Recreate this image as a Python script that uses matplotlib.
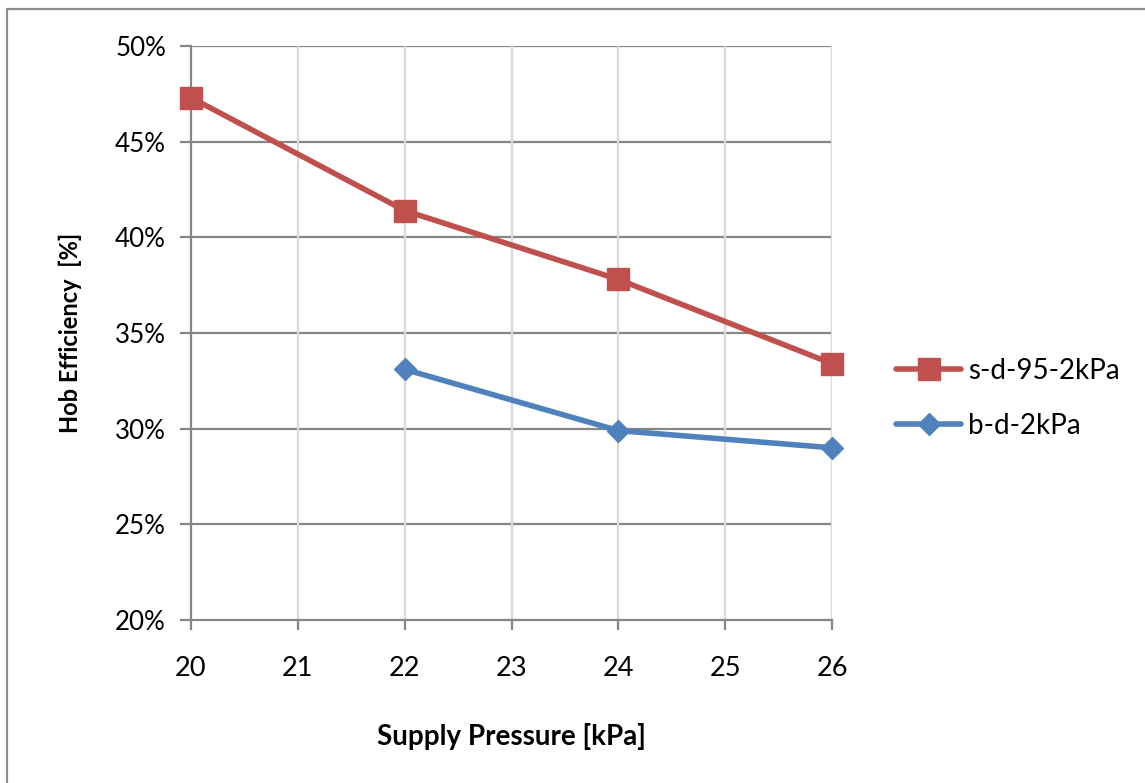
import numpy as np
import matplotlib.pyplot as plt
from matplotlib.patches import Rectangle
from matplotlib.ticker import FuncFormatter

plt.rcParams['font.family'] = ['Lato', 'DejaVu Sans']

# Daten
pressure_sd = [20, 22, 24, 26]
eff_sd = [47.3, 41.4, 37.8, 33.4]
pressure_bd = [22, 24, 26]
eff_bd = [33.1, 29.9, 29.0]
label_sd = 's-d-95-2kPa'
label_bd = 'b-d-2kPa'

red = '#C0504D'
blue = '#4F81BD'
dark_grid = '#868686'
light_grid = '#D9D9D9'

fig = plt.figure(figsize=(11.45, 7.83), dpi=100)
ax = fig.add_axes([191/1145, 1-620/783, (832-191)/1145, (620-46)/783])

# Rahmen um die ganze Grafik
fig.patches.append(Rectangle((7/1145, -0.05), 1.2, 1-9/783+0.05, transform=fig.transFigure,
                             fill=False, edgecolor='#8C8C8C', linewidth=1.6, zorder=0))

ax.plot(pressure_sd, eff_sd, color=red, linewidth=4, marker='s', markersize=16,
        label=label_sd, solid_capstyle='round', zorder=4, clip_on=False)
ax.plot(pressure_bd, eff_bd, color=blue, linewidth=4, marker='D', markersize=11,
        label=label_bd, solid_capstyle='round', zorder=3, clip_on=False)

ax.set_xlim(20, 26)
ax.set_ylim(20, 50)
ax.set_xticks(np.arange(20, 27, 1))
ax.set_yticks(np.arange(20, 51, 5))
ax.yaxis.set_major_formatter(FuncFormatter(lambda v, p: '%d%%' % v))

# Gitterlinien
for y in np.arange(25, 51, 5):
    ax.axhline(y, color=dark_grid, linewidth=1.6, zorder=1)
for x in np.arange(21, 27, 1):
    ax.axvline(x, color=light_grid, linewidth=1.6, zorder=1)

for s in ['top', 'right']:
    ax.spines[s].set_visible(False)
for s in ['left', 'bottom']:
    ax.spines[s].set_color(dark_grid)
    ax.spines[s].set_linewidth(1.6)
    ax.spines[s].set_zorder(2)

ax.tick_params(axis='both', direction='out', color=dark_grid, width=1.6,
               labelcolor='black')
ax.tick_params(axis='y', length=8, pad=10, labelsize=18.7)
ax.tick_params(axis='x', length=7, pad=19, labelsize=19.5)

ax.set_xlabel('Supply Pressure [kPa]', fontsize=20, fontweight='bold', labelpad=30)
ax.set_ylabel('Hob Efficiency  [%]', fontsize=17, fontweight='bold', labelpad=24)

ax.legend(loc='center left', bbox_to_anchor=(1.061, 0.386), frameon=False, fontsize=20,
          handlelength=2.34, labelspacing=1.05, handletextpad=0.25)

fig.savefig('out.png', dpi=100)
